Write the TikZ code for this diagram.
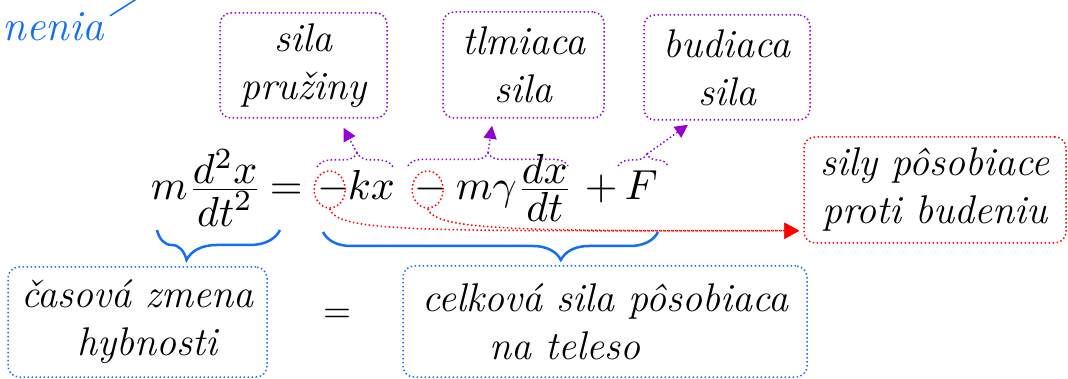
\documentclass[tikz,border=0pt]{standalone}
\usepackage{xcolor}
\usepackage{tikz}
\usetikzlibrary{arrows.meta, positioning, calc, shapes.geometric, decorations.pathreplacing}
\definecolor{vio}{RGB}{150, 0, 210}
\definecolor{blu}{RGB}{20, 110, 245}
\definecolor{rd}{RGB}{255, 0, 0}

\begin{document}
\begin{tikzpicture}[
    x=1pt, y=-1pt,
    >=Triangle,
    dots/.style={line width=1.5pt, dash pattern=on 1.5pt off 2.5pt},
    lbl/.style={rectangle, rounded corners=11pt, draw=#1, dots, align=center,
      inner sep=0pt, font=\fontsize{40}{48}\selectfont\itshape},
    eqn/.style={inner sep=0pt, anchor=base west, scale=4.2, transform shape},
    rcirc/.style={ellipse, draw=rd, dots, minimum width=31pt, minimum height=37pt, inner sep=0pt},
    ubrace/.style 2 args={decorate, decoration={brace, mirror, amplitude=#1, aspect=#2},
      draw=blu, line width=2.5pt},
    obrace/.style 2 args={decorate, decoration={brace, amplitude=#1, aspect=#2},
      draw=vio, dots},
    parrow/.style={-{Triangle[length=13pt, width=13pt]}, vio, dots},
    rarrow/.style={-{Triangle[length=15pt, width=16pt]}, rd, dots}
  ]
  \useasboundingbox (0,0) rectangle (1068,379);
  \clip (0,0) rectangle (1068,379);

  % equation, piece by piece
  \node[eqn] (lhs) at (150,200) {$m\frac{\textstyle d^2x}{\textstyle dt^2}$};
  \node[eqn] (eq)  at (269,200) {$=$};
  \node[eqn] (m1)  at (317,200) {$-$};
  \node[eqn] (kx)  at (347,200) {$kx$};
  \node[eqn] (m2)  at (414,200) {$-$};
  \node[eqn] (dmp) at (455,200) {$m\gamma\frac{\textstyle dx}{\textstyle dt}$};
  \node[eqn] (pl)  at (584,200) {$+$};
  \node[eqn] (ff)  at (624,200) {$F$};

  % labels
  \node[lbl=vio, minimum width=167pt, minimum height=105pt] (sp) at (303.5,65.5) {sila\\pružiny};
  \node[lbl=vio, minimum width=161pt, minimum height=106pt] (tl) at (523.5,65) {tlmiaca\\sila};
  \node[lbl=vio, minimum width=166pt, minimum height=105pt] (bu) at (727,67.5) {budiaca\\sila};
  \node[lbl=rd, minimum width=262pt, minimum height=106pt] (rb) at (935,190) {sily pôsobiace\\proti budeniu};
  \node[lbl=blu, minimum width=259pt, minimum height=110pt] (ch) at (137.5,322) {časová zmena\\\hspace*{20pt}hybnosti};
  \node[lbl=blu, minimum width=404pt, minimum height=111pt] (ck) at (605,321.5) {celková sila pôsobiaca\\na teleso\hspace*{80pt}};
  \node[scale=3.6, transform shape, inner sep=0pt] (eqs) at (337,316) {$=$};

  \node[font=\fontsize{43}{50}\selectfont\itshape, text=blu, anchor=base east, inner sep=0pt] (nen) at (104,41) {nenia};
  \coordinate (nup) at (146,-7);
  \draw[blu, line width=1.5pt] ([shift={(6,3)}]nen.north east) -- (nup);

  % braces
  \draw[ubrace={30pt}{0.24}] (157,230) -- (280,230);
  \draw[ubrace={28pt}{0.71}] (323,232) -- (658,232);
  \draw[obrace={14pt}{0.53}] (317,167) -- (393,167);
  \draw[obrace={13pt}{0.5}] (408,166) -- (568,166);
  \draw[obrace={12pt}{0.58}] (618,166) -- (668,166);

  \coordinate (k1) at (357,153);
  \coordinate (k2) at (488,153);
  \coordinate (k3) at (647,154);
  \draw[parrow] (k1) -- ([shift={(40,9)}]sp.south);
  \draw[parrow] (k2) -- ([shift={(-31.5,7)}]tl.south);
  \draw[parrow] (k3) -- ([shift={(-39,4)}]bu.south);

  % minus signs against the drive
  \node[rcirc] (c1) at ([xshift=-4.5pt]m1.center) {};
  \node[rcirc] (c2) at ([xshift=-3.5pt]m2.center) {};
  \coordinate (rtip) at ([shift={(-4,-13)}]rb.south west);
  \draw[rarrow] (c1.south) .. controls +(8,24) and +(-380,0) .. (rtip);
  \draw[rarrow] (c2.south) .. controls +(8,22) and +(-280,0) .. (rtip);
\end{tikzpicture}
\end{document}
